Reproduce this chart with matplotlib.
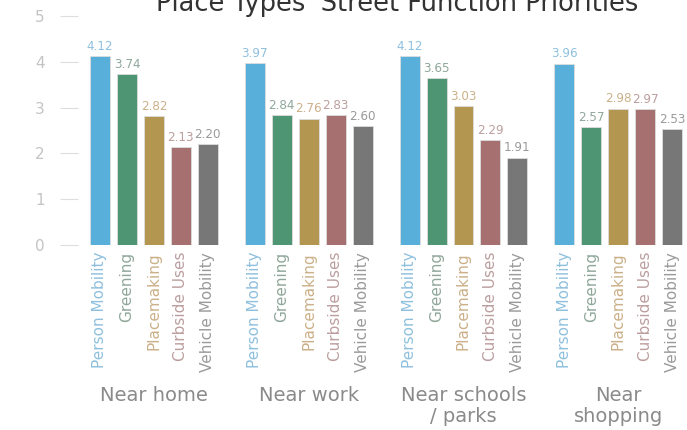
import matplotlib
matplotlib.use("Agg")
import matplotlib.pyplot as plt
import numpy as np

groups = ["Near home", "Near work", "Near schools\n/ parks", "Near\nshopping"]
categories = ["Person Mobility", "Greening", "Placemaking", "Curbside Uses", "Vehicle Mobility"]
values = {
    "Person Mobility": [4.12, 3.97, 4.12, 3.96],
    "Greening": [3.74, 2.84, 3.65, 2.57],
    "Placemaking": [2.82, 2.76, 3.03, 2.98],
    "Curbside Uses": [2.13, 2.83, 2.29, 2.97],
    "Vehicle Mobility": [2.20, 2.60, 1.91, 2.53],
}
bar_colors = ["#58B0DA", "#4E9673", "#B3964F", "#A67070", "#777777"]
label_colors = ["#8EC0DE", "#8FA79A", "#CBB089", "#BC9E9E", "#9A9A9A"]
yticks = [0, 1, 2, 3, 4, 5]

plt.rcParams['font.family'] = ['DejaVu Sans']
fig = plt.figure(figsize=(6.87, 4.30), dpi=100)
ax = fig.add_axes([78/687, 1-245/430, (683-78)/687, (245-16)/430])

step = 5.74
width = 0.74
xs_all, lbls_all, cols_all = [], [], []
for gi, g in enumerate(groups):
    for ci, c in enumerate(categories):
        x = gi*step + ci
        v = values[c][gi]
        ax.bar(x, v, width=width, color=bar_colors[ci], edgecolor="#dddddd", linewidth=0.6)
        ax.text(x, v + 0.07, f"{v:.2f}", ha="center", va="bottom", fontsize=9.5,
                color=label_colors[ci], fontstretch="condensed")
        xs_all.append(x); lbls_all.append(c); cols_all.append(label_colors[ci])
    ax.text(gi*step + 2, -3.08, g, ha="center", va="top", fontsize=14, color="#8a8a8a",
            linespacing=1.12, transform=ax.transData)

ax.set_xlim(-0.815, 3*step + 4 + 0.4)
ax.set_ylim(0, 5)
ax.set_yticks(yticks)
ax.set_xticks(xs_all)
ax.set_xticklabels(lbls_all, rotation=90, fontsize=11)
for t, c in zip(ax.get_xticklabels(), cols_all):
    t.set_color(c)
ax.tick_params(axis="x", length=0, pad=5)
ax.tick_params(axis="y", length=13, width=0.8, color="#dddddd", labelcolor="#c4c4c4",
               labelsize=11, pad=11)
for s in ax.spines.values():
    s.set_visible(False)

fig.text(397/687, 1-11/430, "Place Types' Street Function Priorities", ha="center",
         va="baseline", fontsize=18.5, color="#333333")
fig.savefig("out.png", dpi=100)
